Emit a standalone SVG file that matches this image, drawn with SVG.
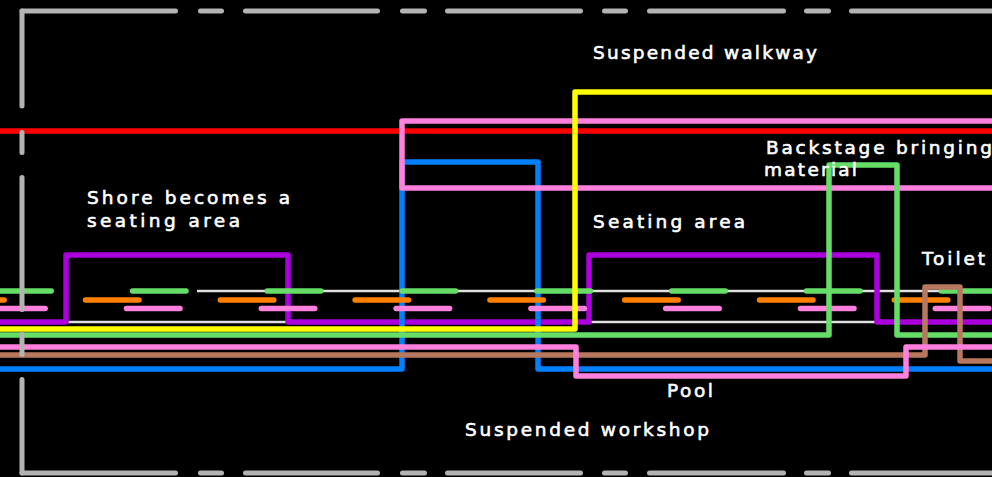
<svg xmlns="http://www.w3.org/2000/svg" width="992" height="477" viewBox="0 0 992 477">
<style>
.ln{fill:none;stroke-width:5.5;stroke-linejoin:round}
.thin{fill:none;stroke:#e0e0e0;stroke-width:2.5}
.dash{fill:none;stroke-width:5.5;stroke-linecap:round;stroke-dasharray:53.5 81.3}
.border{fill:none;stroke:#b3b3b3;stroke-width:5;stroke-linecap:round}
.lbl{font-family:"DejaVu Sans","Liberation Sans",sans-serif;font-size:18.5px;fill:#ffffff;stroke:#ffffff;stroke-width:0.6}
</style>
<rect x="0" y="0" width="992" height="477" fill="#000000"/>
<g id="connectors">
  <path class="thin" d="M197,291 H992"/>
  <path class="thin" d="M0,322 H992"/>
  <path class="ln" stroke="#aa00dd" d="M0,322 H66 V255 H288 V322 H589 V255 H877 V322 H992"/>
  <path class="ln" stroke="#0080ff" d="M0,369 H402 V162 H538 V369 H992"/>
  <path class="dash" stroke="#ff8000" stroke-dashoffset="49.3" d="M0,300 H992"/>
  <path class="dash" stroke="#ff80dd" stroke-dashoffset="8.3" d="M0,308.5 H992"/>
  <path class="dash" stroke="#66dd66" stroke-dashoffset="2.3" d="M0,291 H992"/>
  <path class="ln" stroke="#ff0000" stroke-width="6" d="M0,131 H992"/>
  <path class="ln" stroke="#ff80dd" d="M992,121 H402 V188 H992"/>
  <path class="ln" stroke="#ffff00" d="M0,329 H575 V92 H992"/>
  <path class="ln" stroke="#66dd66" d="M0,335 H829 V165 H897 V335 H992"/>
  <path class="ln" stroke="#b87860" d="M0,355 H925 V287 H960 V361 H992"/>
  <path class="ln" stroke="#ff80dd" d="M0,347 H576 V376 H906 V347 H992"/>
</g>
<g id="label-suspended-walkway"><text class="lbl" x="593" y="58.5" textLength="224" lengthAdjust="spacing">Suspended walkway</text></g>
<g id="label-shore"><text class="lbl" x="87" y="204" textLength="203" lengthAdjust="spacing">Shore becomes a</text><text class="lbl" x="87" y="226.5" textLength="153" lengthAdjust="spacing">seating area</text></g>
<g id="label-seating-area"><text class="lbl" x="593" y="227.5" textLength="152" lengthAdjust="spacing">Seating area</text></g>
<g id="label-backstage"><text class="lbl" x="766" y="153.5" textLength="226" lengthAdjust="spacing">Backstage bringing</text><text class="lbl" x="764" y="175.5" textLength="93" lengthAdjust="spacing">material</text></g>
<g id="label-toilet"><text class="lbl" x="922" y="265" textLength="63" lengthAdjust="spacing">Toilet</text></g>
<g id="label-pool"><text class="lbl" x="667" y="396.5" textLength="46" lengthAdjust="spacing">Pool</text></g>
<g id="label-suspended-workshop"><text class="lbl" x="465" y="436" textLength="244" lengthAdjust="spacing">Suspended workshop</text></g>
<g id="border">
  <path class="border" stroke-dasharray="153.5 25 21 24 132 25 22 23 133 24 21 24 134 23 22 23 300" d="M22,11 H1000"/>
  <path class="border" stroke-dasharray="153.5 25 21 24 132 25 22 23 133 24 21 24 134 23 22 23 300" d="M22,473 H1000"/>
  <path class="border" stroke-dasharray="95 26.5 20 25 132 25 20 25 100" d="M22,11 V473"/>
</g>
</svg>
